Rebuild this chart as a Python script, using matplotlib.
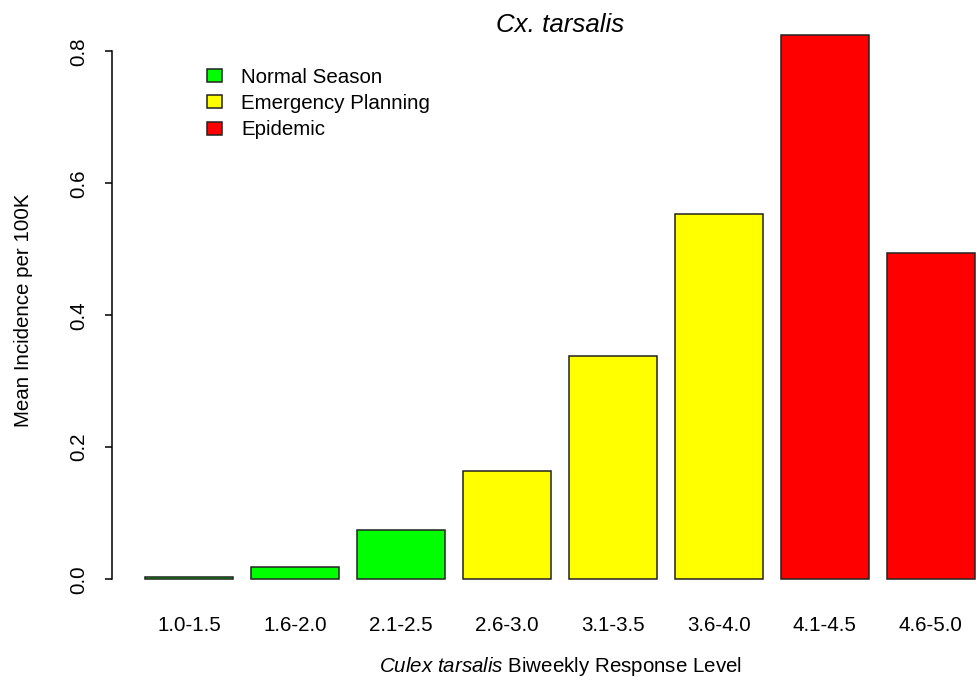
import numpy as np
import matplotlib
matplotlib.use('Agg')
from matplotlib import pyplot as plt
from matplotlib.patches import Patch

plt.rcParams['font.family'] = ['Liberation Sans', 'DejaVu Sans']
plt.rcParams['mathtext.fontset'] = 'custom'
plt.rcParams['mathtext.rm'] = 'Liberation Sans'
plt.rcParams['mathtext.it'] = 'Liberation Sans:italic'

# Данные
levels = ['1.0-1.5', '1.6-2.0', '2.1-2.5', '2.6-3.0', '3.1-3.5', '3.6-4.0', '4.1-4.5', '4.6-5.0']
incidence = [0.003, 0.019, 0.074, 0.164, 0.338, 0.554, 0.825, 0.494]
phase = ['Normal Season', 'Normal Season', 'Normal Season',
         'Emergency Planning', 'Emergency Planning', 'Emergency Planning',
         'Epidemic', 'Epidemic']
phase_names = ['Normal Season', 'Emergency Planning', 'Epidemic']
phase_colors = ['#00FF00', '#FFFF00', '#FF0000']

W, H = 980, 680
fs = 14.8
fig = plt.figure(figsize=(W / 100, H / 100), dpi=100)
ax = fig.add_axes([112 / W, 79 / H, 896 / W, 588 / H])

# как в barplot из R: ширина 1, промежуток 0.2
x = 0.7 + 1.2 * np.arange(len(levels))
cmap = dict(zip(phase_names, phase_colors))
ax.bar(x, incidence, width=1.0, color=[cmap[p] for p in phase],
       edgecolor='#222222', linewidth=1.1)

ax.set_xlim(0.2 - 0.376, 9.6 + 0.376)
ax.set_ylim(-0.0330, 0.858)

for s in ['top', 'right', 'bottom']:
    ax.spines[s].set_visible(False)
ax.spines['left'].set_bounds(0, 0.8)
ax.spines['left'].set_linewidth(1.1)

ax.set_yticks([0.0, 0.2, 0.4, 0.6, 0.8])
ax.set_yticklabels(['0.0', '0.2', '0.4', '0.6', '0.8'], rotation=90, va='center')
ax.tick_params(axis='y', length=5, width=1.1, pad=12, labelsize=fs)
ax.set_xticks(x)
ax.set_xticklabels(levels)
ax.tick_params(axis='x', length=0, pad=11, labelsize=fs)

fig.text(560 / W, 1 - 25 / H, 'Cx. tarsalis', style='italic', fontsize=18.6,
         ha='center', va='center')
fig.text(560 / W, 1 - 667 / H, r'$\it{Culex\ tarsalis}$ Biweekly Response Level',
         fontsize=fs, ha='center', va='center')
fig.text(24 / W, 1 - 310 / H, 'Mean Incidence per 100K', fontsize=fs,
         rotation=90, ha='center', va='center')

handles = [Patch(facecolor=c, edgecolor='#222222', linewidth=1.1) for c in phase_colors]
fig.legend(handles, phase_names, loc='upper left',
           bbox_to_anchor=(207 / W, 1 - 68 / H), frameon=False,
           fontsize=fs, handlelength=0.73, handleheight=0.6,
           handletextpad=0.92, labelspacing=0.35, borderpad=0, borderaxespad=0)

plt.savefig('out.png', dpi=100)
